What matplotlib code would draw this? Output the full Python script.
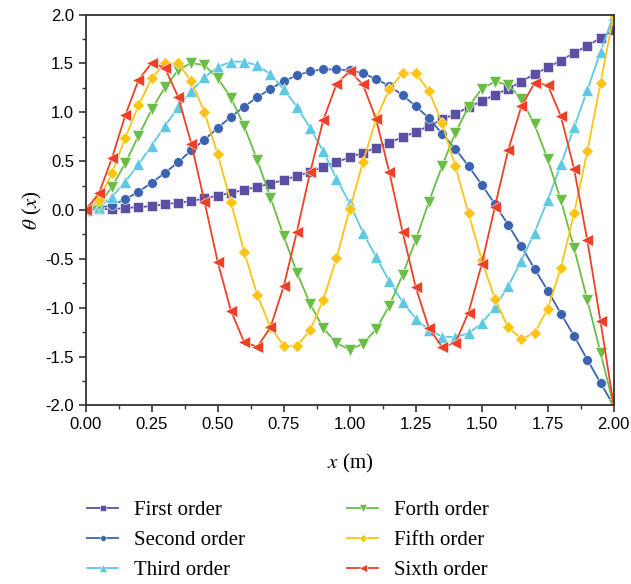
import numpy as np
import matplotlib
matplotlib.use("Agg")
import matplotlib.pyplot as plt

plt.rcParams["mathtext.fontset"] = "stix"

x = [round(0.05 * i, 2) for i in range(41)]

first_order = [0.0, 0.01, 0.01, 0.02, 0.03, 0.04, 0.06, 0.075, 0.09, 0.12,
               0.146, 0.177, 0.205, 0.238, 0.27, 0.307, 0.35, 0.39, 0.44, 0.49,
               0.54, 0.586, 0.637, 0.69, 0.746, 0.80, 0.86, 0.927, 0.985, 1.05,
               1.115, 1.18, 1.24, 1.315, 1.39, 1.46, 1.53, 1.61, 1.68, 1.76, 1.84]

second_order = [0.0, 0.02, 0.05, 0.11, 0.187, 0.28, 0.38, 0.49, 0.61, 0.72,
                0.84, 0.954, 1.056, 1.155, 1.24, 1.32, 1.377, 1.42, 1.44, 1.44,
                1.43, 1.40, 1.34, 1.27, 1.176, 1.063, 0.94, 0.78, 0.627, 0.45,
                0.26, 0.06, -0.15, -0.37, -0.60, -0.825, -1.06, -1.29, -1.53, -1.77, -2.0]

third_order = [0.0, 0.03, 0.136, 0.29, 0.467, 0.66, 0.86, 1.05, 1.22, 1.357,
               1.465, 1.516, 1.52, 1.48, 1.39, 1.237, 1.056, 0.84, 0.60, 0.32,
               0.07, -0.23, -0.48, -0.73, -0.94, -1.11, -1.23, -1.295, -1.30, -1.26,
               -1.16, -0.995, -0.78, -0.52, -0.23, 0.10, 0.467, 0.845, 1.227, 1.62, 2.0]

forth_order = [0.0, 0.05, 0.24, 0.48, 0.76, 1.03, 1.255, 1.43, 1.506, 1.48,
               1.35, 1.15, 0.86, 0.51, 0.126, -0.266, -0.64, -0.96, -1.21, -1.36,
               -1.43, -1.37, -1.22, -0.98, -0.665, -0.307, 0.085, 0.45, 0.79, 1.056,
               1.24, 1.315, 1.28, 1.135, 0.876, 0.52, 0.10, -0.39, -0.92, -1.46, -2.0]

fifth_order = [0.0, 0.10, 0.38, 0.74, 1.07, 1.35, 1.50, 1.50, 1.32, 1.0,
               0.57, 0.08, -0.426, -0.87, -1.20, -1.39, -1.39, -1.23, -0.92, -0.49,
               0.007, 0.49, 0.93, 1.24, 1.40, 1.40, 1.22, 0.886, 0.45, -0.034,
               -0.51, -0.91, -1.20, -1.32, -1.26, -1.01, -0.59, -0.035, 0.60, 1.30, 2.0]

sixth_order = [0.0, 0.17, 0.535, 0.97, 1.33, 1.506, 1.455, 1.16, 0.68, 0.085,
               -0.53, -1.03, -1.35, -1.40, -1.20, -0.78, -0.22, 0.385, 0.92, 1.29,
               1.42, 1.285, 0.93, 0.39, -0.22, -0.79, -1.21, -1.40, -1.36, -1.05,
               -0.555, 0.034, 0.61, 1.06, 1.30, 1.28, 0.96, 0.42, -0.31, -1.14, -2.0]

labels = ["First order", "Second order", "Third order",
          "Forth order", "Fifth order", "Sixth order"]
xticks = [0.0, 0.25, 0.5, 0.75, 1.0, 1.25, 1.5, 1.75, 2.0]
yticks = [-2.0, -1.5, -1.0, -0.5, 0.0, 0.5, 1.0, 1.5, 2.0]

series = [first_order, second_order, third_order, forth_order, fifth_order, sixth_order]
colors = ["#5b4fa3", "#3a64b1", "#5fc8e2", "#6abd45", "#fdc414", "#ee4027"]
markers = ["s", "o", "^", "v", "D", "<"]
msizes = [6.5, 7.0, 8.5, 8.5, 6.5, 8.5]

fig = plt.figure(figsize=(6.31, 5.84), dpi=100)
ax = fig.add_axes([0.1358, 0.3057, 0.8368, 0.6693])

handles = []
for ys, c, m, ms, lab in zip(series, colors, markers, msizes, labels):
    h, = ax.plot(x, ys, color=c, marker=m, markersize=ms, linewidth=1.3,
                 markeredgecolor="white", markeredgewidth=0.4, label=lab)
    handles.append(h)

ax.set_xlim(0, 2.0)
ax.set_ylim(-2.0, 2.0)
ax.set_xticks(xticks)
ax.set_xticklabels([f"{v:.2f}" for v in xticks], family="Liberation Sans", fontsize=12)
ax.set_yticks(yticks)
ax.set_yticklabels([f"{v:.1f}" for v in yticks], family="Liberation Sans", fontsize=12)
ax.set_xticks(np.arange(0.125, 2.0, 0.25), minor=True)
ax.set_yticks(np.arange(-1.75, 2.0, 0.5), minor=True)
ax.tick_params(which="major", direction="out", length=5, width=1.2, color="#333333")
ax.tick_params(which="minor", direction="out", length=3, width=1.0, color="#333333")
for s in ax.spines.values():
    s.set_linewidth(1.3)
    s.set_color("#333333")

ax.set_xlabel("$x$ (m)", family="Liberation Serif", fontsize=15, labelpad=14)
ax.set_ylabel(r"$\theta$ ($x$)", family="Liberation Serif", fontsize=15, labelpad=1)

leg = fig.legend(handles, labels,
                 ncol=2, loc="upper left", bbox_to_anchor=(0.138, 0.143),
                 frameon=False, prop={"family": "Liberation Serif", "size": 15},
                 handlelength=1.5, handletextpad=0.75, columnspacing=4.9,
                 labelspacing=0.5, markerscale=0.6, borderpad=0, borderaxespad=0)

fig.savefig("out.png", dpi=100)
